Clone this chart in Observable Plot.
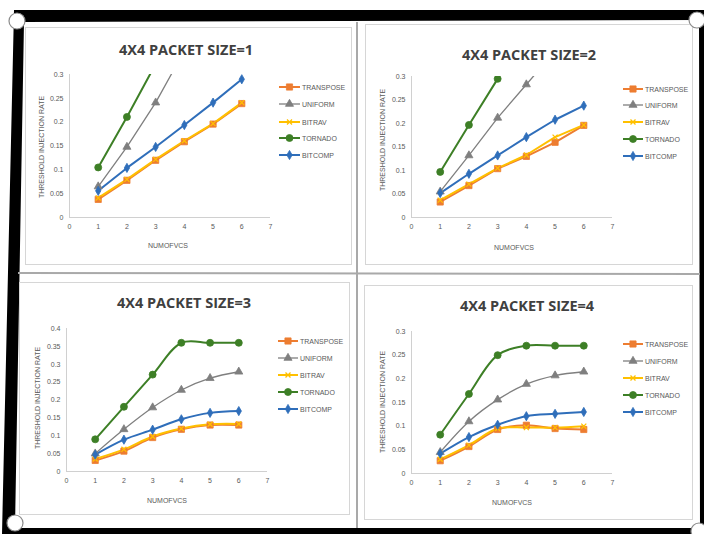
<!DOCTYPE html>
<html>
<head>
<meta charset="utf-8">
<script src="https://cdn.jsdelivr.net/npm/d3@7"></script>
<script src="https://cdn.jsdelivr.net/npm/@observablehq/plot@0.6"></script>
<style>
  html, body { margin: 0; padding: 0; background: #fff; }
  #page { position: relative; width: 704px; height: 534px; overflow: hidden; background: #fff;
          font-family: "Liberation Sans", Arial, sans-serif; }
  #frame { position: absolute; left: 0; top: 0; }
  .panel { position: absolute; box-sizing: border-box; border: 1px solid #d6d6d6; background: #fff; }
  .title { position: absolute; transform: translate(-50%, -50%); white-space: nowrap;
           font-family: "Open Sans", sans-serif; font-weight: 700; font-size: 14.5px; color: #404040; }
  .xlabel { position: absolute; transform: translate(-50%, -50%); white-space: nowrap;
            font-size: 7px; color: #595959; }
  .ylabel { position: absolute; transform: translate(-50%, -50%) rotate(-90deg); white-space: nowrap;
            font-size: 7px; color: #595959; }
  .chart { position: absolute; }
  .legend-row { position: absolute; height: 10px; display: flex; align-items: center; white-space: nowrap;
                font-size: 7px; color: #595959; }
  .legend-row svg { display: block; margin-right: 2px; }
</style>
</head>
<body>
<div id="page"></div>
<script>
// Number of virtual channels on the x axis
const numVCs = [1, 2, 3, 4, 5, 6];
const xTicks = [0, 1, 2, 3, 4, 5, 6, 7];
const yTicksTo03 = [0, 0.05, 0.1, 0.15, 0.2, 0.25, 0.3];
const yTicksTo04 = [0, 0.05, 0.1, 0.15, 0.2, 0.25, 0.3, 0.35, 0.4];

const seriesNames = ["TRANSPOSE", "UNIFORM", "BITRAV", "TORNADO", "BITCOMP"];
const seriesColors = ["#ED7D31", "#7F7F7F", "#FFC000", "#3D7F26", "#2F6EBA"];
const seriesSymbols = ["square", "triangle", "times", "circle", "diamond"];
const seriesWidths = [2, 1.3, 2, 2, 2];
const seriesRadius = [3.5, 3.0, 2.4, 3.5, 2.8];

const panelTitles = ["4X4 PACKET SIZE=1", "4X4 PACKET SIZE=2", "4X4 PACKET SIZE=3", "4X4 PACKET SIZE=4"];
const xAxisTitle = "NUMOFVCS";
const yAxisTitle = "THRESHOLD INJECTION RATE";

// Threshold injection rate, packet size 1 (steep series run past the 0.3 axis limit)
const size1Transpose = [0.038, 0.078, 0.12, 0.159, 0.196, 0.239];
const size1Uniform   = [0.065, 0.148, 0.241, 0.35];
const size1Bitrav    = [0.041, 0.080, 0.122, 0.161, 0.197, 0.241];
const size1Tornado   = [0.105, 0.211, 0.322];
const size1Bitcomp   = [0.056, 0.104, 0.148, 0.194, 0.241, 0.29];

// Packet size 2
const size2Transpose = [0.033, 0.068, 0.104, 0.13, 0.16, 0.196];
const size2Uniform   = [0.055, 0.132, 0.212, 0.283, 0.354];
const size2Bitrav    = [0.037, 0.071, 0.105, 0.133, 0.171, 0.197];
const size2Tornado   = [0.097, 0.197, 0.295];
const size2Bitcomp   = [0.052, 0.093, 0.132, 0.171, 0.208, 0.238];

// Packet size 3
const size3Transpose = [0.031, 0.057, 0.095, 0.118, 0.13, 0.13];
const size3Uniform   = [0.05, 0.118, 0.179, 0.228, 0.261, 0.279];
const size3Bitrav    = [0.035, 0.062, 0.098, 0.12, 0.132, 0.133];
const size3Tornado   = [0.09, 0.181, 0.271, 0.36, 0.36, 0.36];
const size3Bitcomp   = [0.047, 0.089, 0.117, 0.146, 0.164, 0.169];

// Packet size 4
const size4Transpose = [0.027, 0.057, 0.093, 0.102, 0.095, 0.093];
const size4Uniform   = [0.045, 0.11, 0.156, 0.189, 0.207, 0.215];
const size4Bitrav    = [0.03, 0.06, 0.095, 0.097, 0.097, 0.1];
const size4Tornado   = [0.082, 0.168, 0.25, 0.27, 0.27, 0.27];
const size4Bitcomp   = [0.042, 0.077, 0.103, 0.121, 0.126, 0.13];

// Page layout of the four panels (pixel geometry only)
const layouts = [
  { box: [25, 27, 352, 265],  x0: 69,  x7: 270, y0: 217, yTop: 74,  title: [186, 49],  xlab: [168, 245], ylab: [41, 147],
    legend: { lx: 279, lw: 21, rows: [87, 104, 122, 138, 155] } },
  { box: [365, 24, 693, 265], x0: 411, x7: 612, y0: 217, yTop: 76,  title: [529, 54],  xlab: [514, 247], ylab: [382, 140],
    legend: { lx: 623, lw: 20, rows: [89, 105, 122, 139, 156] } },
  { box: [19, 282, 350, 515], x0: 66,  x7: 267, y0: 471, yTop: 328, title: [184, 302], xlab: [167, 500], ylab: [37, 398],
    legend: { lx: 278, lw: 20, rows: [341, 358, 375, 392, 409] } },
  { box: [364, 285, 693, 520], x0: 411, x7: 612, y0: 473, yTop: 331, title: [527, 305], xlab: [512, 502], ylab: [382, 402],
    legend: { lx: 623, lw: 20, rows: [344, 361, 378, 395, 412] } }
];

const panels = [
  { title: panelTitles[0], yTicks: yTicksTo03, curve: "linear",
    series: [size1Transpose, size1Uniform, size1Bitrav, size1Tornado, size1Bitcomp] },
  { title: panelTitles[1], yTicks: yTicksTo03, curve: "linear",
    series: [size2Transpose, size2Uniform, size2Bitrav, size2Tornado, size2Bitcomp] },
  { title: panelTitles[2], yTicks: yTicksTo04, curve: "catmull-rom",
    series: [size3Transpose, size3Uniform, size3Bitrav, size3Tornado, size3Bitcomp] },
  { title: panelTitles[3], yTicks: yTicksTo03, curve: "catmull-rom",
    series: [size4Transpose, size4Uniform, size4Bitrav, size4Tornado, size4Bitcomp] }
];

const page = document.getElementById("page");

// Black photo-style frame
const frame = d3.select(page).append("svg").attr("id", "frame").attr("width", 704).attr("height", 534);
frame.append("path")
  .attr("fill", "#000").attr("fill-rule", "evenodd")
  .attr("d", "M14,10L704,10L704,534L2,534Z M24,22L699,20L700,528L15,528Z");

function el(tag, cls, parent) {
  const e = document.createElement(tag);
  if (cls) e.className = cls;
  (parent || page).appendChild(e);
  return e;
}

panels.forEach((p, i) => {
  const L = layouts[i];
  const box = el("div", "panel");
  Object.assign(box.style, {
    left: L.box[0] + "px", top: L.box[1] + "px",
    width: (L.box[2] - L.box[0]) + "px", height: (L.box[3] - L.box[1]) + "px"
  });

  const t = el("div", "title"); t.textContent = p.title;
  t.style.left = L.title[0] + "px"; t.style.top = L.title[1] + "px";
  const xl = el("div", "xlabel"); xl.textContent = xAxisTitle;
  xl.style.left = L.xlab[0] + "px"; xl.style.top = L.xlab[1] + "px";
  const yl = el("div", "ylabel"); yl.textContent = yAxisTitle;
  yl.style.left = L.ylab[0] + "px"; yl.style.top = L.ylab[1] + "px";

  // long-format rows for this panel
  const rows = [];
  p.series.forEach((vals, s) => vals.forEach((v, k) => rows.push({ vc: numVCs[k], rate: v, series: seriesNames[s] })));

  const yMax = p.yTicks[p.yTicks.length - 1];
  const mL = 45, mR = 8, mT = 12, mB = 22;
  const width = (L.x7 - L.x0) + mL + mR;
  const height = (L.y0 - L.yTop) + mT + mB;

  const lineMarks = seriesNames.map((name, s) =>
    Plot.line(rows.filter(d => d.series === name), {
      x: "vc", y: "rate", stroke: seriesColors[s], strokeWidth: seriesWidths[s],
      curve: p.curve, clip: true, strokeLinejoin: "round", strokeLinecap: "round"
    }));
  const dotMarks = seriesNames.map((name, s) =>
    Plot.dot(rows.filter(d => d.series === name), {
      x: "vc", y: "rate", symbol: () => seriesSymbols[s],
      fill: seriesSymbols[s] === "times" ? "none" : seriesColors[s],
      stroke: seriesColors[s], strokeWidth: seriesSymbols[s] === "times" ? 1.3 : 0.8,
      r: seriesRadius[s], clip: true
    }));

  const chart = Plot.plot({
    width, height,
    marginLeft: mL, marginRight: mR, marginTop: mT, marginBottom: mB,
    style: { background: "transparent", fontFamily: "Liberation Sans, Arial, sans-serif", fontSize: "7px", color: "#595959", overflow: "visible" },
    x: { domain: [0, 7], ticks: xTicks, tickSize: 0, tickPadding: 7, tickFormat: d => String(d), label: null },
    y: { domain: [0, yMax], ticks: p.yTicks, tickSize: 0, tickPadding: 6, tickFormat: d => d === 0 ? "0" : String(d), label: null },
    marks: [
      Plot.ruleY([0], { stroke: "#d0d0d0", strokeWidth: 1 }),
      Plot.ruleX([0], { stroke: "#d0d0d0", strokeWidth: 1 }),
      ...lineMarks,
      ...dotMarks
    ]
  });
  const holder = el("div", "chart");
  holder.style.left = (L.x0 - mL) + "px";
  holder.style.top = (L.yTop - mT) + "px";
  holder.appendChild(chart);

  // Legend: line-with-marker swatch and series name
  seriesNames.forEach((name, s) => {
    const row = el("div", "legend-row");
    row.style.left = L.legend.lx + "px";
    row.style.top = (L.legend.rows[s] - 5) + "px";
    const sw = d3.select(row).append("svg").attr("width", L.legend.lw).attr("height", 10);
    sw.append("line").attr("x1", 0).attr("x2", L.legend.lw).attr("y1", 5).attr("y2", 5)
      .attr("stroke", seriesColors[s]).attr("stroke-width", seriesWidths[s]);
    const symType = {
      square: d3.symbolSquare, triangle: d3.symbolTriangle, times: d3.symbolTimes,
      circle: d3.symbolCircle, diamond: d3.symbolDiamond
    }[seriesSymbols[s]];
    const r = seriesRadius[s];
    sw.append("path")
      .attr("transform", `translate(${L.legend.lw / 2},5)`)
      .attr("d", d3.symbol(symType, Math.PI * r * r)())
      .attr("fill", seriesSymbols[s] === "times" ? "none" : seriesColors[s])
      .attr("stroke", seriesColors[s]).attr("stroke-width", seriesSymbols[s] === "times" ? 1.3 : 0.8);
    const label = document.createElement("span");
    label.textContent = name;
    row.appendChild(label);
  });
});

// Divider lines between the panels and corner rings, drawn over everything
const overlay = d3.select(page).append("svg")
  .attr("width", 704).attr("height", 534)
  .style("position", "absolute").style("left", "0px").style("top", "0px").style("pointer-events", "none");
overlay.append("line").attr("x1", 357).attr("x2", 357).attr("y1", 22).attr("y2", 528)
  .attr("stroke", "#a9a9a9").attr("stroke-width", 2);
overlay.append("line").attr("x1", 18).attr("x2", 700).attr("y1", 273).attr("y2", 274)
  .attr("stroke", "#a9a9a9").attr("stroke-width", 2);
[[17, 21], [697, 20], [15, 523], [699, 531]].forEach(([cx, cy]) => {
  overlay.append("circle").attr("cx", cx).attr("cy", cy).attr("r", 8)
    .attr("fill", "#fff").attr("stroke", "#8a8a8a").attr("stroke-width", 1.2);
});
</script>
</body>
</html>
